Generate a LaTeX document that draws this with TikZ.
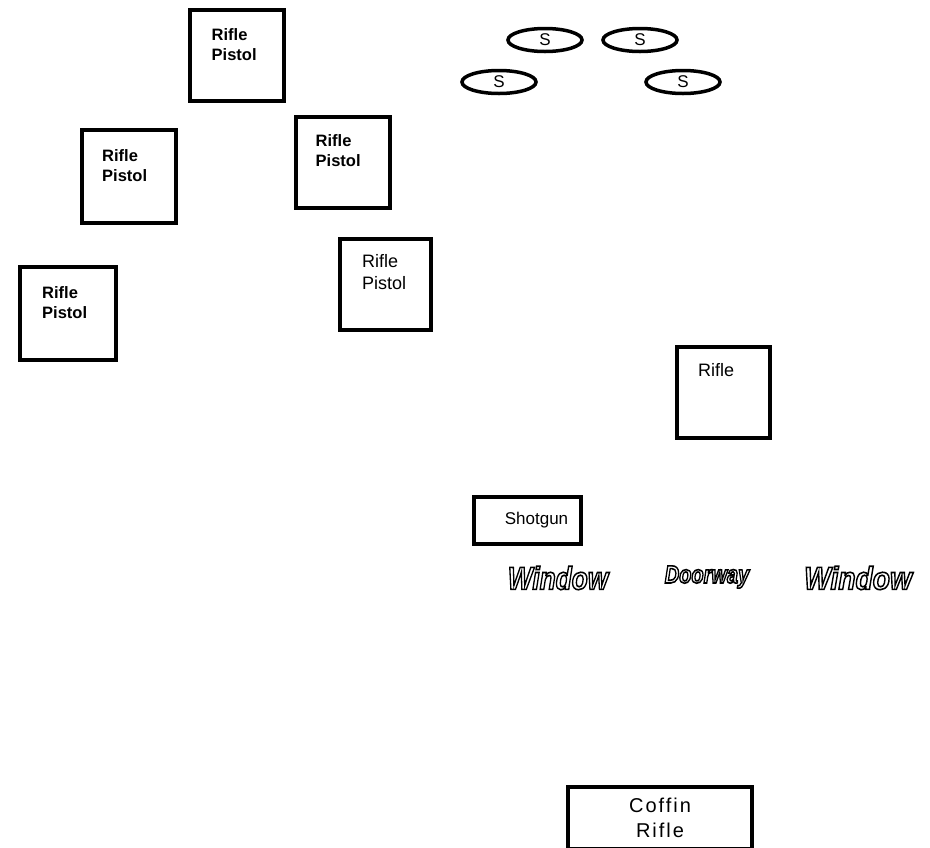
\documentclass[tikz,border=0pt]{standalone}
\usepackage{fontspec}
\setmainfont{Liberation Sans}
\usepackage{graphicx}
\usepackage{tikz}
\usetikzlibrary{positioning, shapes.geometric}
\tikzset{
	weaponbox/.style={
			rectangle,
			draw=black,
			line width=4pt,
			fill=white,
			minimum width=94pt,
			minimum height=91pt,
			inner sep=0pt
		},
	boldlist/.style={
			align=left,
			inner sep=0pt,
			font=\fontsize{16.5}{20}\selectfont\bfseries
		},
	plainlist/.style={
			align=left,
			inner sep=0pt,
			font=\fontsize{18}{22}\selectfont
		},
	sentrynode/.style={
			ellipse,
			draw=black,
			line width=3.5pt,
			minimum width=74pt,
			minimum height=23pt,
			inner sep=0pt,
			font=\fontsize{17}{17}\selectfont
		},
	widebox/.style={
			rectangle,
			draw=black,
			line width=3.5pt,
			fill=white,
			inner sep=0pt,
			align=center
		},
	openingnode/.style={
			inner sep=0pt
		}
}

\newcommand{\opening}[2]{\scalebox{#1}[1]{\special{pdf:code q 2 Tr 1.6 w 0 0 0 RG 1 1 1 rg}#2\special{pdf:code Q}}}

\begin{document}
\begin{tikzpicture}[x=1pt, y=-1pt]
\clip (0,0) rectangle (930,847);
\fill[white] (0,0) rectangle (930,847);

\node[weaponbox] (b1) at (236.5,55.5) {};
\node[weaponbox, minimum width=94pt, minimum height=93pt] (b2) at (129,176.5) {};
\node[weaponbox] (b3) at (342.5,162.5) {};
\node[weaponbox, minimum width=96pt, minimum height=93pt] (b4) at (68,313.5) {};
\node[weaponbox, minimum width=91pt] (b5) at (385.5,284.5) {};
\node[weaponbox, minimum width=93pt] (b6) at (723.5,392.5) {};

\node[boldlist, below right=20pt and 24pt of b1.north west] (t1) {Rifle\\Pistol};
\node[boldlist, below right=21pt and 22pt of b2.north west] (t2) {Rifle\\Pistol};
\node[boldlist, below right=19pt and 22pt of b3.north west] (t3) {Rifle\\Pistol};
\node[boldlist, below right=21pt and 24pt of b4.north west] (t4) {Rifle\\Pistol};
\node[plainlist, below right=17pt and 24pt of b5.north west] (t5) {Rifle\\Pistol};
\node[plainlist, below right=18pt and 23pt of b6.north west] (t6) {Rifle};

\node[sentrynode] (s1) at (545,40) {S};
\node[sentrynode] (s2) at (640,40) {S};
\node[sentrynode] (s3) at (499,82) {S};
\node[sentrynode] (s4) at (683,82) {S};

\node[widebox, minimum width=107pt, minimum height=47pt,
  font=\fontsize{17}{20}\selectfont] (gun) at (527.5,520.5) {\hspace*{18pt}Shotgun};

\node[openingnode, font=\fontsize{32}{32}\selectfont\bfseries\itshape] (w1) at (558,578) {\opening{0.82}{Window}};
\node[openingnode, font=\fontsize{25}{25}\selectfont\bfseries\itshape] (door) at (707,577) {\opening{0.8}{Doorway}};
\node[openingnode, font=\fontsize{32}{32}\selectfont\bfseries\itshape] (w2) at (858,578) {\opening{0.88}{Window}};

\node[widebox, minimum width=184pt, minimum height=62pt,
  font=\fontsize{20}{25}\selectfont\addfontfeature{LetterSpace=10}] (coffin) at (660,818) {Coffin\\Rifle};
\end{tikzpicture}
\end{document}
